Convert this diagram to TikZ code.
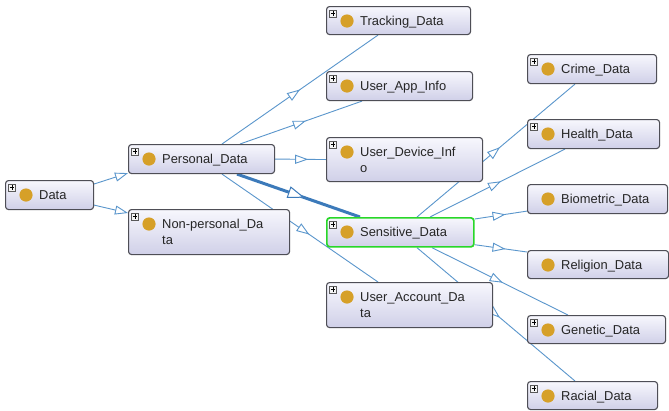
\documentclass[tikz,border=0pt]{standalone}
\usepackage{fontspec}
\setmainfont{Liberation Sans}
\usetikzlibrary{arrows.meta,calc,decorations.markings,backgrounds}

\definecolor{edgeblue}{RGB}{90,150,204}
\definecolor{thickblue}{RGB}{60,122,186}
\definecolor{boxborder}{RGB}{78,78,86}
\definecolor{boxtop}{RGB}{247,247,253}
\definecolor{boxbottom}{RGB}{208,208,232}
\definecolor{bulletgold}{RGB}{214,160,40}
\definecolor{selgreen}{RGB}{40,215,40}

\tikzset{
  clsbox/.style={draw=boxborder, line width=1.1pt, rounded corners=3pt,
    top color=boxtop, bottom color=boxbottom, inner sep=0pt, anchor=north west},
  selected/.style={draw=selgreen, line width=1.7pt},
  clslabel/.style={inner sep=0pt, anchor=base west,
    font=\fontsize{12.9}{16}\selectfont, text=black!85},
  bullet/.style={fill=bulletgold},
  expbox/.style={draw=black!65, fill=black!4, line width=0.5pt, minimum size=7pt,
    inner sep=0pt,
    path picture={\draw[line width=0.8pt, black]
      ([xshift=-2.2pt]path picture bounding box.center) -- ([xshift=2.2pt]path picture bounding box.center)
      ([yshift=-2.2pt]path picture bounding box.center) -- ([yshift=2.2pt]path picture bounding box.center);}},
  isa/.style={draw=edgeblue, line width=0.9pt, postaction={decorate},
    decoration={markings, mark=at position #1 with {\arrow[line width=0.9pt]{Triangle[length=13pt, width=9pt, fill=white]}}}},
  isaend/.style={draw=edgeblue, line width=0.9pt, -{Triangle[length=13pt, width=9pt, fill=white]}},
  strongisa/.style={draw=thickblue, line width=3pt, postaction={decorate},
    decoration={markings, mark=at position #1 with {\arrow[line width=1pt]{Triangle[length=17pt, width=12pt, fill=white]}}}}
}

% class box: [extra box options] name, x, y, width, height, first text line
\newcommand\owlclass[7][]{%
  \node[clsbox, minimum width=#5pt, minimum height=#6pt, #1] (#2) at (#3,#4) {};
  \fill[bullet] ($(#2.north west)+(21,15)$) circle[radius=6.6pt];
  \node[clslabel] at ($(#2.north west)+(34,19.5)$) {#7};
}
% second text line of a class box
\newcommand\owlsecond[2]{\node[clslabel] at ($(#1.north west)+(34,35.5)$) {#2};}
% expand handle in the upper left corner
\newcommand\owlexpand[1]{\node[expbox] at ($(#1.north west)+(7,7.5)$) {};}

\begin{document}
\begin{tikzpicture}[x=1pt, y=-1pt]
\useasboundingbox (0,0) rectangle (669,410);

% classes
\owlclass{data}{5}{180}{88}{29}{Data}
\owlclass{pd}{128}{144}{146}{29}{Personal\_Data}
\owlclass{npd}{128}{209}{161}{45}{Non-personal\_Da}
\owlsecond{npd}{ta}
\owlclass{track}{326}{6}{144}{28}{Tracking\_Data}
\owlclass{app}{326}{71}{146}{29}{User\_App\_Info}
\owlclass{dev}{326}{137}{156}{44}{User\_Device\_Inf}
\owlsecond{dev}{o}
\owlclass[selected]{sens}{326}{217}{147}{29}{Sensitive\_Data}
\owlclass{acct}{326}{282}{166}{45}{User\_Account\_Da}
\owlsecond{acct}{ta}
\owlclass{crime}{527}{54}{129}{29}{Crime\_Data}
\owlclass{health}{527}{119}{132}{29}{Health\_Data}
\owlclass{bio}{527}{184}{140}{29}{Biometric\_Data}
\owlclass{rel}{527}{250}{141}{28}{Religion\_Data}
\owlclass{gen}{527}{315}{138}{28}{Genetic\_Data}
\owlclass{racial}{527}{381}{130}{28}{Racial\_Data}

\foreach \c in {data,pd,npd,track,app,dev,sens,acct,crime,health,gen,racial}
  {\owlexpand{\c}}

% subclass edges, behind the boxes
\begin{pgfonlayer}{background}
\fill[white] (0,0) rectangle (669,410);
\draw[isaend] ($(data.north east)+(0,4)$) -- ($(pd.south west)+(0,-1)$);
\draw[isaend] ($(data.south east)+(0,-5)$) -- ($(npd.north west)+(0,4)$);
\draw[isa=0.5]  ($(pd.north west)+(94,0)$) -- ($(track.south west)+(52,0)$);
\draw[isa=0.54] ($(pd.north west)+(112,0)$) -- ($(app.south west)+(36,0)$);
\draw[isa=0.65] (pd.east) -- (dev.west);
\draw[isa=0.56] ($(pd.south west)+(94,0)$) -- ($(acct.north west)+(52,0)$);
\draw[strongisa=0.55] ($(pd.south west)+(109,0)$) -- ($(sens.north west)+(34,0)$);
\draw[isa=0.525] ($(sens.north west)+(91,0)$) -- ($(crime.south west)+(48,0)$);
\draw[isa=0.526] ($(sens.north west)+(104,0)$) -- ($(health.south west)+(38,0)$);
\draw[isa=0.59] ($(sens.north east)+(0,2)$) -- ($(bio.south west)+(0,-3)$);
\draw[isa=0.59] ($(sens.south east)+(0,-3)$) -- ($(rel.north west)+(0,2)$);
\draw[isa=0.52] ($(sens.south west)+(106,0)$) -- ($(gen.north west)+(41,0)$);
\draw[isa=0.525] ($(sens.south west)+(91,0)$) -- ($(racial.north west)+(48,0)$);
\end{pgfonlayer}
\end{tikzpicture}
\end{document}
